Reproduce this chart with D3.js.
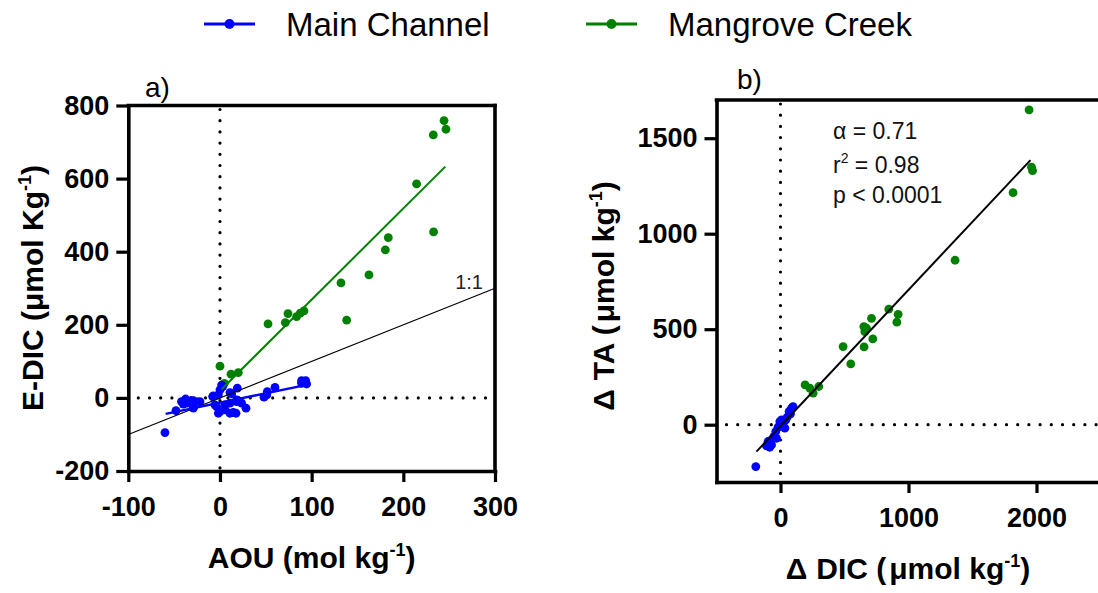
<!DOCTYPE html>
<html><head><meta charset="utf-8">
<script src="https://cdn.jsdelivr.net/npm/d3@7"></script>
<style>body{margin:0;background:#fff}svg{display:block}text{font-family:Arial,"Liberation Sans",sans-serif}</style>
</head><body>
<svg id="c" width="1098" height="593"></svg>
<script>
// ---- Panel a data: AOU vs E-DIC ----
const blueAOU  = [-60,-48,-42,-40,-37.5,-35.6,-31,-29,-25.5,-21.8,-8,-7.3,-5.5,-3.6,-1.8,-1.8,0,0,1.8,2.9,5.5,5.5,10.9,10.9,10.9,12.7,14.5,17.5,18.9,18.2,18.2,23.6,28.4,48,51,51.6,60,89,93.5,94.5,89];
const blueEDIC = [-95,-35,-10,-17,-3,-14.5,-7,-28,-10,-10,3.6,5.5,-19,-24,-42,8,22,-37.5,35,31,-33,-19,14.5,-14.5,-42,11,-40,-42,26.5,-10,-5.5,-14.5,-28,2,8,17,29,47,47,38,40];
const greenAOU  = [244.4,246.5,232.7,214.5,233,183.6,180.4,162.5,132,138.2,74.2,71.3,83.6,87.6,91.6,52.4,0,12,20,4.7];
const greenEDIC = [758.7,735,719.6,585.5,454,438.6,405,336.5,314.6,212.6,230.6,206,222.4,231.7,238,202.5,86.7,64.8,69,40];
// fit lines: [intercept, slope, xStart, xEnd]
const blueFitA  = [-13.2, 0.516, -59.2, 94.6];
const greenFitA = [19.3, 2.496, 1.8, 245.8];
const oneToOne  = [0, 1, -100, 300];
const xTicksA = [-100,0,100,200,300];
const yTicksA = [-200,0,200,400,600,800];

// ---- Panel b data: ΔDIC vs ΔTA ----
const greenDIC = [1942,1961,1969,1817,1364,846,919,909,711,651,672,659,721,489,653,549,192,255,299,229];
const greenTA  = [1648,1348,1330,1215,861,605,578,537,557,514,505,487,449,409,407,318,208,165,200,191];
const blueDIC = [-193,-109,-84,-97,-70,-52,-37,-19,-5,8,20,41,52,67,86,98,78,34,-31,-70,8];
const blueTA  = [-219,-111,-118,-88,-80,-62,-36,-13,16,-6,8,25,39,69,86,95,57,-18,-71,-106,25];
const fitB = [-7, 0.713, -188, 1953];
const xTicksB = [0,1000,2000];
const yTicksB = [0,500,1000,1500];

const BLUE = "#0000ff", GREEN = "#008000";
const svg = d3.select("#c");

function zip(a,b){ return a.map((v,i)=>[v,b[i]]); }
const fmt = d => String(d);

function panel(o){
  const g = svg.append("g");
  const [x0,x1] = o.x.range(), [yb,yt] = o.y.range();
  // dotted zero lines
  g.append("line").attr("x1",o.x(0)).attr("x2",o.x(0)).attr("y1",yt+4).attr("y2",yb)
    .attr("stroke","#000").attr("stroke-width",3.2).attr("stroke-linecap","round").attr("stroke-dasharray","0 11.2");
  g.append("line").attr("x1",x0+10).attr("x2",x1).attr("y1",o.y(0)).attr("y2",o.y(0))
    .attr("stroke","#000").attr("stroke-width",3.2).attr("stroke-linecap","round").attr("stroke-dasharray","0 11.2");
  // points
  o.series.forEach(s=>{
    g.append("g").selectAll("circle").data(s.pts).join("circle")
      .attr("cx",d=>o.x(d[0])).attr("cy",d=>o.y(d[1])).attr("r",4.4).attr("fill",s.color);
  });
  // lines
  o.lines.forEach(l=>{
    g.append("line").attr("x1",o.x(l.f[2])).attr("y1",o.y(l.f[0]+l.f[1]*l.f[2]))
      .attr("x2",o.x(l.f[3])).attr("y2",o.y(l.f[0]+l.f[1]*l.f[3]))
      .attr("stroke",l.color).attr("stroke-width",l.w);
  });
  // axes
  const ax = g.append("g").attr("transform",`translate(0,${yb})`)
    .call(d3.axisBottom(o.x).tickValues(o.xt).tickSize(11).tickSizeOuter(0).tickPadding(15).tickFormat(fmt));
  const ay = g.append("g").attr("transform",`translate(${x0},0)`)
    .call(d3.axisLeft(o.y).tickValues(o.yt).tickSize(12).tickSizeOuter(0).tickPadding(7).tickFormat(fmt));
  [ax,ay].forEach(a=>{
    a.select(".domain").attr("stroke","#000").attr("stroke-width",3.6).attr("stroke-linecap","square");
    a.selectAll(".tick line").attr("stroke","#000").attr("stroke-width",3.2);
    a.selectAll(".tick text").attr("fill","#000").style("font-size","27px").style("font-weight","bold")
      .style("font-family",'Arial,"Liberation Sans",sans-serif');
  });
  // frame top / right
  g.append("line").attr("x1",x0).attr("x2",x1).attr("y1",yt).attr("y2",yt)
    .attr("stroke","#000").attr("stroke-width",3.6).attr("stroke-linecap","square");
  if(o.rightBorder) g.append("line").attr("x1",x1).attr("x2",x1).attr("y1",yt).attr("y2",yb)
    .attr("stroke","#000").attr("stroke-width",3.6).attr("stroke-linecap","square");
  return g;
}

// Panel a
const xA = d3.scaleLinear().domain([-100,300]).range([128.3,495]);
const yA = d3.scaleLinear().domain([-200,800]).range([471,105.5]);
panel({x:xA,y:yA,xt:xTicksA,yt:yTicksA,rightBorder:true,
  series:[{pts:zip(greenAOU,greenEDIC),color:GREEN},{pts:zip(blueAOU,blueEDIC),color:BLUE}],
  lines:[{f:oneToOne,color:"#000",w:1.1},{f:greenFitA,color:GREEN,w:2},{f:blueFitA,color:BLUE,w:2.4}]});

// Panel b
const xB = d3.scaleLinear().domain([-500,2500]).range([716.5,1100.5]);
const yB = d3.scaleLinear().domain([-300,1700]).range([482,100]);
panel({x:xB,y:yB,xt:xTicksB,yt:yTicksB,rightBorder:false,
  series:[{pts:zip(greenDIC,greenTA),color:GREEN},{pts:zip(blueDIC,blueTA),color:BLUE}],
  lines:[{f:fitB,color:"#000",w:2}]});

// Titles
function title(x,y,rot,parts){
  const t = svg.append("text").attr("transform",`translate(${x},${y}) rotate(${rot})`)
    .attr("text-anchor","middle").style("font-size","30px").style("font-weight","bold").attr("fill","#000");
  parts.forEach(p=>{
    const s = t.append("tspan").text(p[0]);
    if(p[1]==="sup") s.style("font-size","18px").attr("dy",-12);
    if(p[1]==="down") s.attr("dy",12);
    if(p[1]==="wide") s.attr("dx",9);
    if(p[1]==="mu") s.attr("dx",3);
  });
}
title(xA(100),568,0,[["AOU (mol kg"],["-1","sup"],[")","down"]]);
title(43,288,-90,[["E-DIC (μmol Kg"],["-1","sup"],[")","down"]]);
title(908,579,0,[["Δ"],["DIC (","wide"],["μmol kg","mu"],["-1","sup"],[")","down"]]);
title(614,296,-90,[["Δ"],["TA (","wide"],["μmol kg","mu"],["-1","sup"],[")","down"]]);

// Panel letters
svg.append("text").attr("x",145).attr("y",97).style("font-size","28px").text("a)");
svg.append("text").attr("x",737).attr("y",89).style("font-size","28px").text("b)");

// 1:1 label
svg.append("text").attr("x",483).attr("y",289).attr("text-anchor","end").style("font-size","20px").attr("fill","#222").text("1:1");

// Stats
const st = svg.append("g").style("font-size","23px").attr("fill","#111");
st.append("text").attr("x",833).attr("y",139).text("α = 0.71");
const r2 = st.append("text").attr("x",833).attr("y",172.5);
r2.append("tspan").text("r");
r2.append("tspan").text("2").style("font-size","14px").attr("dy",-10);
r2.append("tspan").text(" = 0.98").attr("dy",10);
st.append("text").attr("x",833).attr("y",203).text("p < 0.0001");

// Legend
const legend = [{name:"Main Channel",color:BLUE,x:204},{name:"Mangrove Creek",color:GREEN,x:586}];
legend.forEach(l=>{
  svg.append("line").attr("x1",l.x).attr("x2",l.x+51).attr("y1",24).attr("y2",24).attr("stroke",l.color).attr("stroke-width",3);
  svg.append("circle").attr("cx",l.x+25.5).attr("cy",24).attr("r",5).attr("fill",l.color);
  svg.append("text").attr("x",l.x+82).attr("y",36).style("font-size","33px").attr("fill","#000").text(l.name);
});
</script>
</body></html>
